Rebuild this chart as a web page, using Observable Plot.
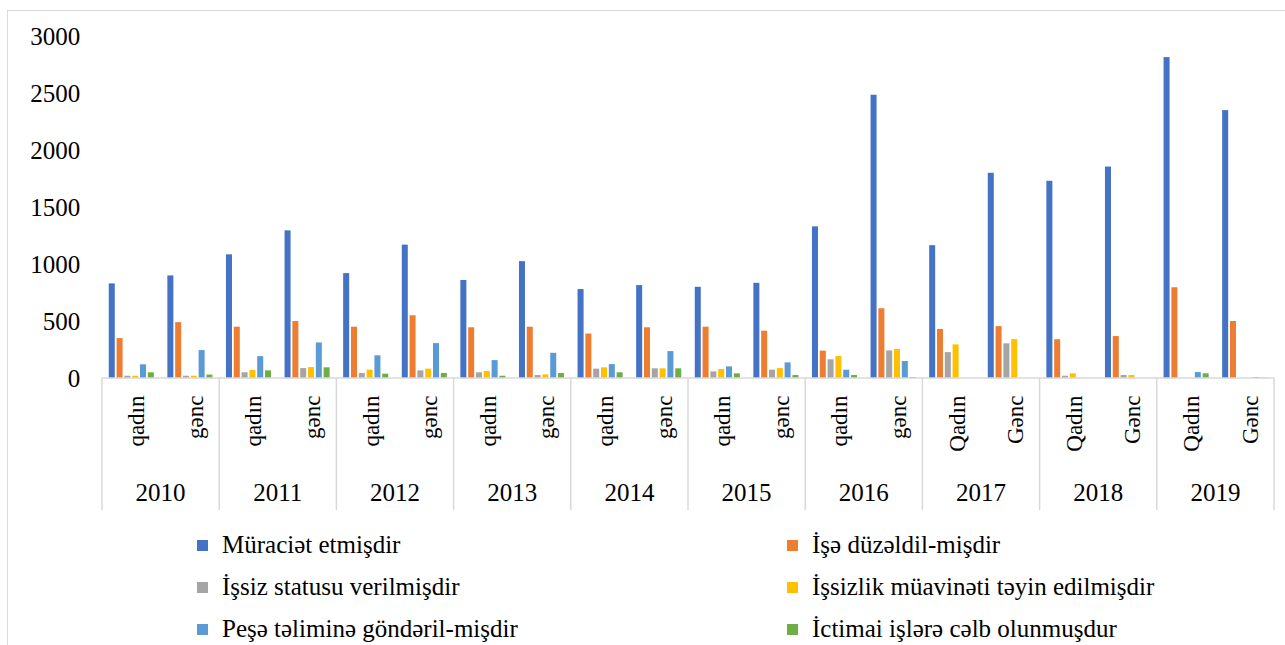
<!DOCTYPE html>
<html>
<head>
<meta charset="utf-8">
<script src="https://cdn.jsdelivr.net/npm/d3@7"></script>
<script src="https://cdn.jsdelivr.net/npm/@observablehq/plot@0.6"></script>
<style>
  html, body { margin: 0; padding: 0; background: #fff; width: 1285px; height: 645px; overflow: hidden; }
  body { position: relative; font-family: 'Liberation Serif', serif; color: #000; }
  #frame { position: absolute; left: 7px; top: 10px; width: 1300px; height: 700px; border-left: 1px solid #d9d9d9; border-top: 1px solid #d9d9d9; }
  #chart { position: absolute; left: 0; top: 0; }
  #legend { position: absolute; left: 0; top: 524px; width: 1285px; }
  .row { position: relative; height: 42px; }
  .item { position: absolute; top: 0; height: 42px; display: flex; align-items: center; font-size: 25px; white-space: nowrap; font-family: 'Liberation Serif', serif; }
  .sw { width: 11px; height: 11px; margin-right: 14px; flex: none; }
</style>
</head>
<body>
<div id="frame"></div>
<div id="chart"></div>
<div id="legend"></div>
<script>
// ---- data ----
const years = ["2010","2011","2012","2013","2014","2015","2016","2017","2018","2019"];
const groupLabels = ["qadın","gənc","qadın","gənc","qadın","gənc","qadın","gənc","qadın","gənc",
                     "qadın","gənc","qadın","gənc","Qadın","Gənc","Qadın","Gənc","Qadın","Gənc"];
const seriesNames = ["Müraciət etmişdir","İşə düzəldil-mişdir","İşsiz statusu verilmişdir",
                     "İşsizlik müavinəti təyin edilmişdir","Peşə təliminə göndəril-mişdir","İctimai işlərə cəlb olunmuşdur"];
const colors = ["#4472C4","#ED7D31","#A5A5A5","#FFC000","#5B9BD5","#70AD47"];
const yTicks = [0,500,1000,1500,2000,2500,3000];

const muraciet = [830, 900, 1085, 1295, 920, 1170, 860, 1025, 780, 815, 800, 835, 1330, 2485, 1165, 1800, 1730, 1855, 2815, 2350];
const iseDuzeldil = [350, 490, 450, 500, 450, 550, 445, 450, 390, 445, 450, 415, 240, 612, 430, 455, 340, 368, 796, 500];
const issizStatus = [20, 20, 50, 87, 44, 67, 50, 26, 82, 85, 58, 73, 164, 242, 227, 304, 20, 26, 0, 0];
const muavinet = [20, 20, 70, 96, 73, 82, 61, 32, 94, 85, 79, 87, 192, 254, 295, 341, 41, 26, 0, 0];
const peseTelimi = [120, 245, 192, 312, 199, 306, 157, 221, 122, 236, 102, 137, 73, 149, 0, 0, 0, 0, 52, 8];
const ictimai = [50, 30, 67, 94, 38, 44, 20, 44, 50, 85, 41, 26, 26, 8, 0, 0, 0, 0, 41, 3];

const seriesValues = [muraciet, iseDuzeldil, issizStatus, muavinet, peseTelimi, ictimai];

// ---- build tables ----
const keys = groupLabels.map((g, i) => years[Math.floor(i / 2)] + "|" + (i % 2));
const cats = keys.map((k, i) => ({key: k, label: groupLabels[i], year: years[Math.floor(i / 2)]}));
const rows = [];
keys.forEach((k, i) => seriesNames.forEach((s, j) => rows.push({key: k, series: s, value: seriesValues[j][i]})));

const font = "Liberation Serif";

const plot = Plot.plot({
  width: 1285, height: 515, marginLeft: 102, marginRight: 11, marginTop: 36, marginBottom: 137,
  style: {fontFamily: font, fontSize: "25px", color: "#000", background: "transparent", overflow: "visible"},
  fx: {domain: keys, paddingInner: 0.2, paddingOuter: 0.1, round: false, axis: null, label: null},
  x: {domain: seriesNames, paddingInner: 0.23, paddingOuter: 0.115, round: false, axis: null, label: null},
  y: {domain: [0, 3000], ticks: yTicks, tickSize: 0, tickPadding: 28, label: null, tickFormat: d => String(d)},
  color: {domain: seriesNames, range: colors},
  marks: [
    Plot.barY(rows, {fx: "key", x: "series", y: "value", fill: "series"}),
    Plot.text(cats, {fx: "key", text: "label", frameAnchor: "bottom", rotate: -90, textAnchor: "end",
                     lineAnchor: "middle", dy: 17, dx: 5, fontSize: 23, fill: "#000"})
  ]
});
document.getElementById("chart").appendChild(plot);

// ---- year separators, axis line, year labels via the plot's scales ----
const fxS = plot.scale("fx");
const yS = plot.scale("y");
const y0 = yS.apply(0);
const half = (fxS.step - fxS.bandwidth) / 2;
const svg = d3.select(plot);
const g = svg.append("g");
const leftEdge = fxS.apply(keys[0]) - half;
const rightEdge = fxS.apply(keys[keys.length - 1]) + fxS.bandwidth + half;
g.append("line").attr("x1", leftEdge).attr("x2", rightEdge).attr("y1", y0).attr("y2", y0)
  .attr("stroke", "#d9d9d9").attr("stroke-width", 1.5);
years.forEach((yr, i) => {
  const l = fxS.apply(keys[2 * i]) - half;
  const r = fxS.apply(keys[2 * i + 1]) + fxS.bandwidth + half;
  g.append("line").attr("x1", l).attr("x2", l).attr("y1", y0).attr("y2", y0 + 132)
    .attr("stroke", "#d9d9d9").attr("stroke-width", 1.5);
  if (i === years.length - 1) {
    g.append("line").attr("x1", r).attr("x2", r).attr("y1", y0).attr("y2", y0 + 132)
      .attr("stroke", "#d9d9d9").attr("stroke-width", 1.5);
  }
  g.append("text").attr("x", (l + r) / 2).attr("y", y0 + 115).attr("text-anchor", "middle")
    .attr("dy", "0.32em").attr("font-size", 25).attr("fill", "#000").text(yr);
});

// ---- legend ----
const legend = document.getElementById("legend");
const colLeft = [197, 787];
for (let r = 0; r < 3; r++) {
  const row = document.createElement("div");
  row.className = "row";
  for (let c = 0; c < 2; c++) {
    const idx = r * 2 + c;
    const item = document.createElement("div");
    item.className = "item";
    item.style.left = colLeft[c] + "px";
    const sw = document.createElement("span");
    sw.className = "sw";
    sw.style.background = colors[idx];
    const t = document.createElement("span");
    t.textContent = seriesNames[idx];
    item.appendChild(sw);
    item.appendChild(t);
    row.appendChild(item);
  }
  legend.appendChild(row);
}
</script>
</body>
</html>
